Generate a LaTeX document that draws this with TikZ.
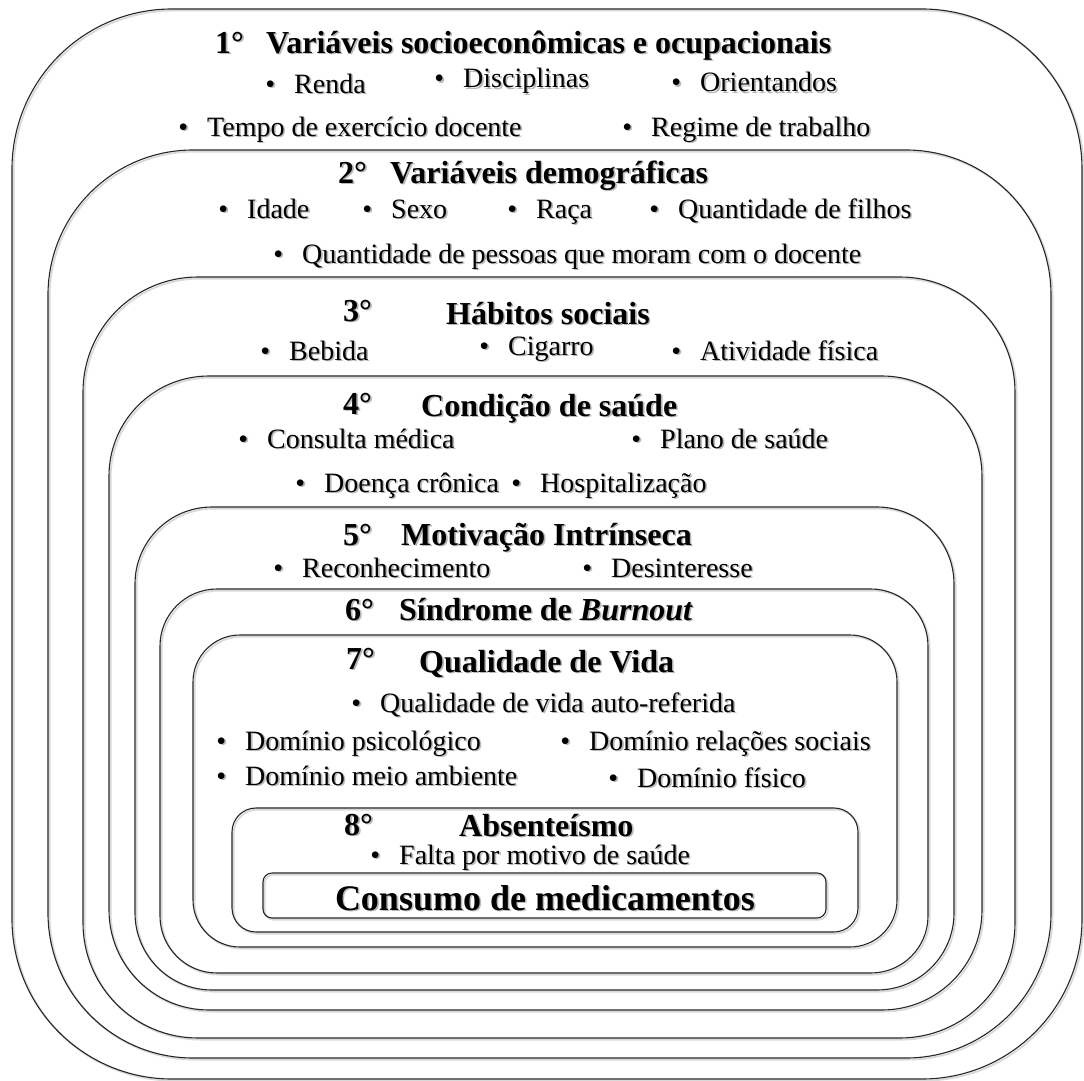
\documentclass[tikz,border=0pt]{standalone}
\usepackage{fontspec}
\setmainfont{Liberation Serif}
\tikzset{
  box/.style={draw=black!85, line width=1.1pt},
  boxsh/.style={draw=black!15, line width=1.8pt},
  item/.style={anchor=base west, inner sep=0pt, font=\fontsize{28}{32}\selectfont},
  ttl/.style={anchor=base west, inner sep=0pt, font=\fontsize{32}{36}\selectfont\bfseries},
  big/.style={anchor=base, inner sep=0pt, font=\fontsize{36}{40}\selectfont\bfseries},
}
\newcommand\shd[1]{\makebox[0pt][l]{\hspace{1.6pt}\raisebox{-1.6pt}{\textcolor{black!28}{#1}}}#1}
\newcommand\itm[1]{\shd{\llap{•\hspace{19pt}}#1}}
\begin{document}
\begin{tikzpicture}[x=1pt,y=-1pt]
\fill[white] (0,0) rectangle (1084,1081);
\useasboundingbox (0,0) rectangle (1084,1081);
% nested rounded boxes: left/top/right/bottom/radius
\foreach \a/\b/\c/\d/\r in {12/9/1082/1079/160, 48/150/1051/1058/145, 83/277/1015/1038/115,
  109/376/982/1010/100, 135/507/954/990/77, 160/589/928/973/57, 193/635/897/947/47,
  232/808/858/932/24, 263/873/826/918/9}{
  \draw[boxsh, rounded corners=\r pt] (\a+1.6,\b+1.6) rectangle (\c+1.6,\d+1.6);
  \draw[box, rounded corners=\r pt] (\a,\b) rectangle (\c,\d);
}
% 1
\node[ttl] (n1) at (215,53) {\shd{1°}};
\node[ttl] (t1) at (266,53) {\shd{Variáveis socioeconômicas e ocupacionais}};
\node[item] (renda) at (294,93) {\itm{Renda}};
\node[item] (disc) at (463,88) {\itm{Disciplinas}};
\node[item] (orient) at (700,92) {\itm{Orientandos}};
\node[item] (tempo) at (207,136) {\itm{Tempo de exercício docente}};
\node[item] (regime) at (651,136) {\itm{Regime de trabalho}};
% 2
\node[ttl] (n2) at (338,183) {\shd{2°}};
\node[ttl] (t2) at (390,183) {\shd{Variáveis demográficas}};
\node[item] (idade) at (247,218) {\itm{Idade}};
\node[item] (sexo) at (391,218) {\itm{Sexo}};
\node[item] (raca) at (536,218) {\itm{Raça}};
\node[item] (filhos) at (678,218) {\itm{Quantidade de filhos}};
\node[item] (pessoas) at (302,263) {\itm{Quantidade de pessoas que moram com o docente}};
% 3
\node[ttl] (n3) at (343,321) {\shd{3°}};
\node[ttl] (t3) at (446,324) {\shd{Hábitos sociais}};
\node[item] (bebida) at (289,360) {\itm{Bebida}};
\node[item] (cigarro) at (508,355) {\itm{Cigarro}};
\node[item] (ativ) at (700,360) {\itm{Atividade física}};
% 4
\node[ttl] (n4) at (343,414) {\shd{4°}};
\node[ttl] (t4) at (421,416) {\shd{Condição de saúde}};
\node[item] (consulta) at (267,448) {\itm{Consulta médica}};
\node[item] (plano) at (660,448) {\itm{Plano de saúde}};
\node[item] (doenca) at (324,492) {\itm{Doença crônica}};
\node[item] (hosp) at (540,492) {\itm{Hospitalização}};
% 5
\node[ttl] (n5) at (343,545) {\shd{5°}};
\node[ttl] (t5) at (401,545) {\shd{Motivação Intrínseca}};
\node[item] (recon) at (302,577) {\itm{Reconhecimento}};
\node[item] (desint) at (611,577) {\itm{Desinteresse}};
% 6
\node[ttl] (n6) at (345,620) {\shd{6°}};
\node[ttl] (t6) at (399,620) {\shd{Síndrome de \textit{Burnout}}};
% 7
\node[ttl] (n7) at (346,669) {\shd{7°}};
\node[ttl] (t7) at (419,672) {\shd{Qualidade de Vida}};
\node[item] (auto) at (380,712) {\itm{Qualidade de vida auto-referida}};
\node[item] (psico) at (245,750) {\itm{Domínio psicológico}};
\node[item] (rel) at (589,750) {\itm{Domínio relações sociais}};
\node[item] (meio) at (245,785) {\itm{Domínio meio ambiente}};
\node[item] (fis) at (637,787) {\itm{Domínio físico}};
% 8
\node[ttl] (n8) at (344,835) {\shd{8°}};
\node[ttl] (t8) at (459,836) {\shd{Absenteísmo}};
\node[item] (falta) at (399,864) {\itm{Falta por motivo de saúde}};
\node[big] (consumo) at (545,910) {\shd{Consumo de medicamentos}};
\end{tikzpicture}
\end{document}
